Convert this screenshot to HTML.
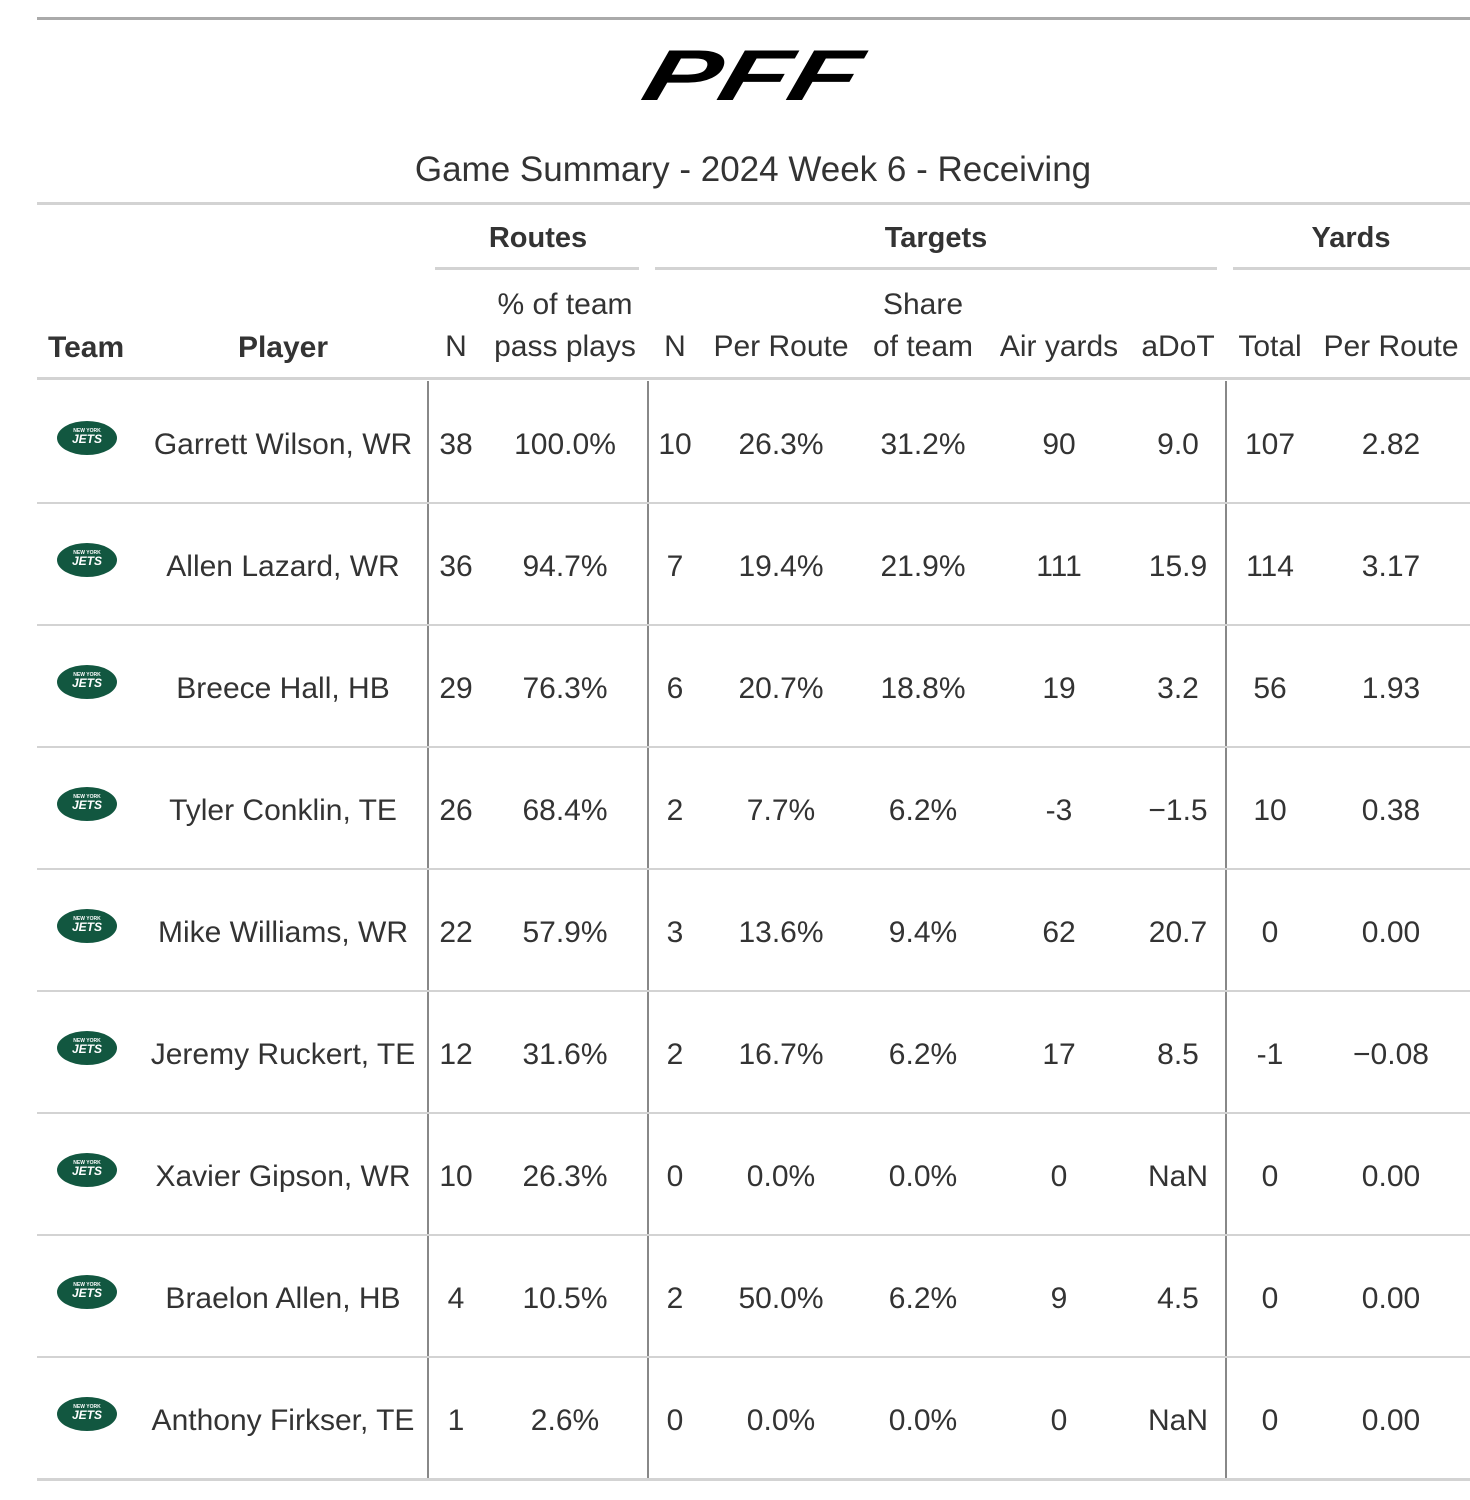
<!DOCTYPE html>
<html><head><meta charset="utf-8"><style>
body{margin:0;background:#fff;width:1470px;height:1500px;position:relative;font-family:"Liberation Sans",sans-serif;color:#333;overflow:hidden}
.a{position:absolute;white-space:nowrap}
.c{transform:translateX(-50%);text-align:center}
.hl{position:absolute;background:#d3d3d3}
.vl{position:absolute;background:#888;width:2px;top:381px;height:1098px}
.t{font-size:30px;line-height:30px}
.b{font-weight:bold;font-size:29px}
</style></head><body>
<div class="hl" style="left:37px;top:17px;width:1433px;height:3px;background:#aaa"></div>
<svg class="a" style="left:630px;top:40px" width="250" height="70">
<text x="10" y="60" font-family="Liberation Sans" font-weight="bold" font-style="italic" font-size="72" textLength="214" lengthAdjust="spacingAndGlyphs" fill="#000" transform="skewX(-15) translate(15,0)">PFF</text></svg>
<div class="a c" style="left:753px;top:150px;font-size:35px">Game Summary - 2024 Week 6 - Receiving</div>
<div class="hl" style="left:37px;top:202px;width:1433px;height:3px"></div>
<div class="a c b" style="left:538px;top:222px">Routes</div>
<div class="a c b" style="left:936px;top:222px">Targets</div>
<div class="a c b" style="left:1351px;top:222px">Yards</div>
<div class="hl" style="left:435px;top:267px;width:204px;height:3px"></div>
<div class="hl" style="left:655px;top:267px;width:562px;height:3px"></div>
<div class="hl" style="left:1233px;top:267px;width:237px;height:3px"></div>
<div class="a b" style="left:48px;top:331px;font-size:30px">Team</div>
<div class="a c b" style="left:283px;top:331px;font-size:30px">Player</div>
<div class="a c t" style="left:456px;top:332px">N</div>
<div class="a c t" style="left:565px;top:284px;line-height:42px">% of team<br>pass plays</div>
<div class="a c t" style="left:675px;top:332px">N</div>
<div class="a c t" style="left:781px;top:332px">Per Route</div>
<div class="a c t" style="left:923px;top:284px;line-height:42px">Share<br>of team</div>
<div class="a c t" style="left:1059px;top:332px">Air yards</div>
<div class="a c t" style="left:1178px;top:332px">aDoT</div>
<div class="a c t" style="left:1270px;top:332px">Total</div>
<div class="a c t" style="left:1391px;top:332px">Per Route</div>
<div class="hl" style="left:37px;top:377px;width:1433px;height:3px"></div>
<div class="vl" style="left:427px"></div><div class="vl" style="left:647px"></div><div class="vl" style="left:1225px"></div>
<div id="rows"></div>
<script>
var d=[["Garrett Wilson, WR",38,"100.0%",10,"26.3%","31.2%",90,"9.0",107,"2.82"],
["Allen Lazard, WR",36,"94.7%",7,"19.4%","21.9%",111,"15.9",114,"3.17"],
["Breece Hall, HB",29,"76.3%",6,"20.7%","18.8%",19,"3.2",56,"1.93"],
["Tyler Conklin, TE",26,"68.4%",2,"7.7%","6.2%","-3","\u22121.5",10,"0.38"],
["Mike Williams, WR",22,"57.9%",3,"13.6%","9.4%",62,"20.7",0,"0.00"],
["Jeremy Ruckert, TE",12,"31.6%",2,"16.7%","6.2%",17,"8.5","-1","\u22120.08"],
["Xavier Gipson, WR",10,"26.3%",0,"0.0%","0.0%",0,"NaN",0,"0.00"],
["Braelon Allen, HB",4,"10.5%",2,"50.0%","6.2%",9,"4.5",0,"0.00"],
["Anthony Firkser, TE",1,"2.6%",0,"0.0%","0.0%",0,"NaN",0,"0.00"]];
var xs=[283,456,565,675,781,923,1059,1178,1270,1391],h="";
d.forEach(function(r,i){var y=381+i*122;
h+='<svg class="a" style="left:56px;top:'+(y+39)+'px" width="62" height="36"><ellipse cx="31" cy="18" rx="30" ry="17" fill="#125740"/><text x="31" y="12" font-size="5" fill="#fff" text-anchor="middle" font-weight="bold">NEW YORK</text><text x="31" y="23" font-size="12" fill="#fff" text-anchor="middle" font-weight="bold" font-style="italic">JETS</text></svg>';
r.forEach(function(v,j){h+='<div class="a c t" style="left:'+xs[j]+'px;top:'+(y+49)+'px">'+v+'</div>';});
h+='<div class="hl" style="left:37px;top:'+(y+121)+'px;width:1433px;height:'+(i==8?3:2)+'px"></div>';});
document.getElementById("rows").innerHTML=h;
</script>
</body></html>
